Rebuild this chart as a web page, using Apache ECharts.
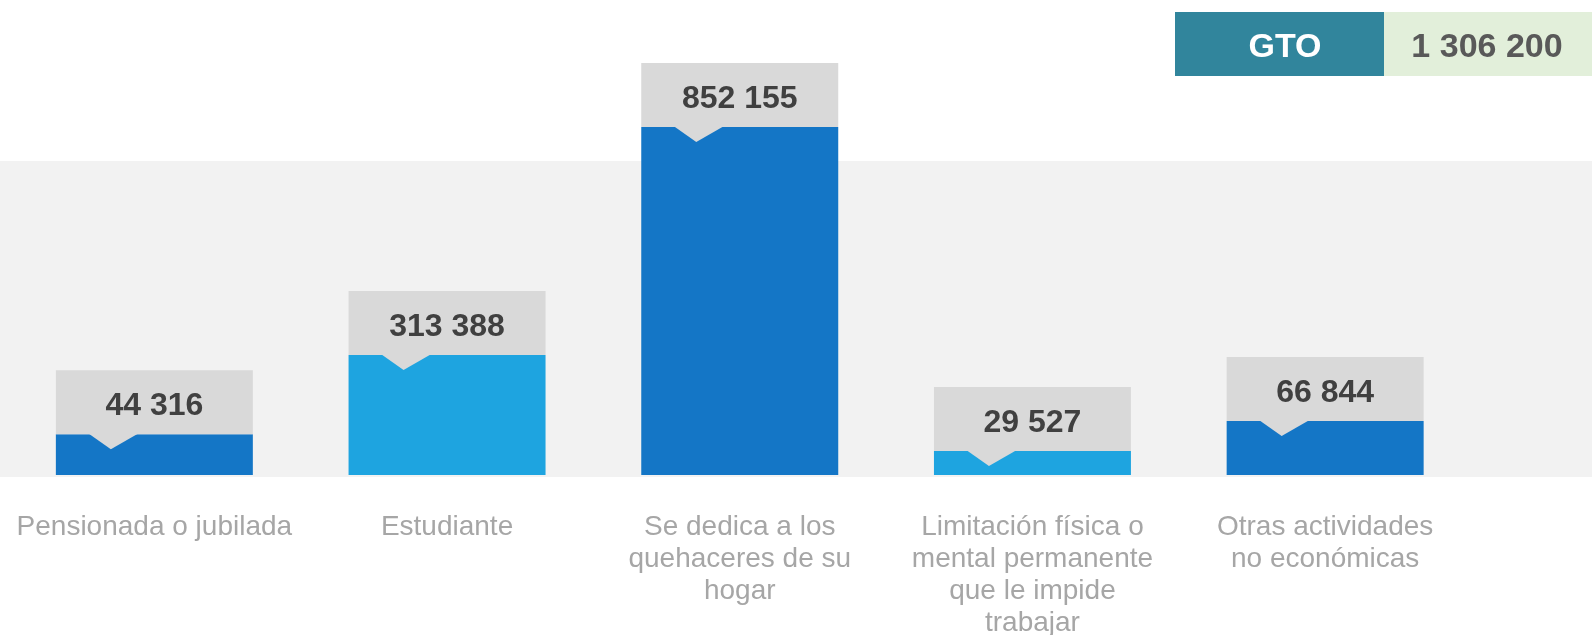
<!DOCTYPE html>
<html>
<head>
<meta charset="utf-8">
<title>GTO - población no económicamente activa</title>
<script src="https://cdn.jsdelivr.net/npm/echarts@6/dist/echarts.min.js"></script>
<style>
  html, body { margin: 0; padding: 0; background: #ffffff; }
  #chart { width: 1592px; height: 635px; }
</style>
</head>
<body>
<div id="chart"></div>
<script>
// categorias (con saltos de linea como en el original)
const categories = [
  "Pensionada o jubilada",
  "Estudiante",
  "Se dedica a los\nquehaceres de su\nhogar",
  "Limitación física o\nmental permanente\nque le impide\ntrabajar",
  "Otras actividades\nno económicas",
];
// valores mostrados en las etiquetas
const values = [44316, 313388, 852155, 29527, 66844];
// largo de las barras tal como se dibujan en el original (no van a escala)
const drawnHeights = [100000, 294000, 852155, 59000, 132000];

const totalName = "GTO";
const totalValue = 1306200;

const barColors = ["#1476c6", "#1ea4e0", "#1476c6", "#1ea4e0", "#1476c6"];
const FONT = "'Liberation Sans', Arial, sans-serif";

function fmt(n) {
  return String(n).replace(/\B(?=(\d{3})+(?!\d))/g, " ");
}

const chart = echarts.init(document.getElementById("chart"));

function renderItem(params, api) {
  const i = api.value(0);
  const top = api.coord([i, api.value(1)]);
  const base = api.coord([i, 0]);
  const bw = api.size([1, 0])[0] * 0.673;
  const x0 = top[0] - bw / 2;
  const ty = top[1];
  const boxH = 64;
  return {
    type: "group",
    children: [
      {
        type: "rect",
        shape: { x: x0, y: ty, width: bw, height: base[1] - ty },
        style: { fill: barColors[i] },
      },
      {
        type: "rect",
        shape: { x: x0, y: ty - boxH, width: bw, height: boxH },
        style: { fill: "#d9d9d9" },
      },
      {
        // piquito del cuadro de la etiqueta
        type: "polygon",
        shape: { points: [[x0 + 33, ty - 0.5], [x0 + 55, ty + 15], [x0 + 82, ty - 0.5]] },
        style: { fill: "#d9d9d9" },
      },
      {
        type: "text",
        x: top[0],
        y: ty - boxH / 2 + 4.5,
        style: {
          text: fmt(api.value(2)),
          align: "center",
          verticalAlign: "middle",
          fontFamily: FONT,
          fontWeight: "bold",
          fontSize: 32,
          fill: "#404040",
        },
      },
    ],
  };
}

const option = {
  animation: false,
  backgroundColor: "#ffffff",
  grid: { left: 8, right: 120.5, top: 66.6, bottom: 160, outerBoundsMode: "none" },
  xAxis: {
    type: "category",
    data: categories,
    axisLine: { show: false },
    axisTick: { show: false },
    axisLabel: {
      color: "#a6a6a6",
      fontFamily: FONT,
      fontSize: 28,
      lineHeight: 32,
      margin: 36,
      interval: 0,
    },
    splitLine: { show: false },
  },
  yAxis: {
    type: "value",
    min: 0,
    max: 1000000,
    show: false,
  },
  graphic: [
    {
      type: "rect",
      z: 0,
      shape: { x: 0, y: 161, width: 1592, height: 316 },
      style: { fill: "#f2f2f2" },
    },
    {
      type: "rect",
      shape: { x: 1175, y: 12, width: 209, height: 64 },
      style: { fill: "#31859c" },
    },
    {
      type: "rect",
      shape: { x: 1384, y: 12, width: 208, height: 64 },
      style: { fill: "#e2efda" },
    },
    {
      type: "text",
      x: 1285,
      y: 47.5,
      style: {
        text: totalName,
        align: "center",
        verticalAlign: "middle",
        fontFamily: FONT,
        fontWeight: "bold",
        fontSize: 34,
        fill: "#ffffff",
      },
    },
    {
      type: "text",
      x: 1487,
      y: 47.5,
      style: {
        text: fmt(totalValue),
        align: "center",
        verticalAlign: "middle",
        fontFamily: FONT,
        fontWeight: "bold",
        fontSize: 34,
        fill: "#595959",
      },
    },
  ],
  series: [
    {
      type: "custom",
      z: 2,
      renderItem: renderItem,
      encode: { x: 0, y: 1 },
      data: categories.map((c, i) => [i, drawnHeights[i], values[i]]),
    },
  ],
};

chart.setOption(option);
</script>
</body>
</html>
